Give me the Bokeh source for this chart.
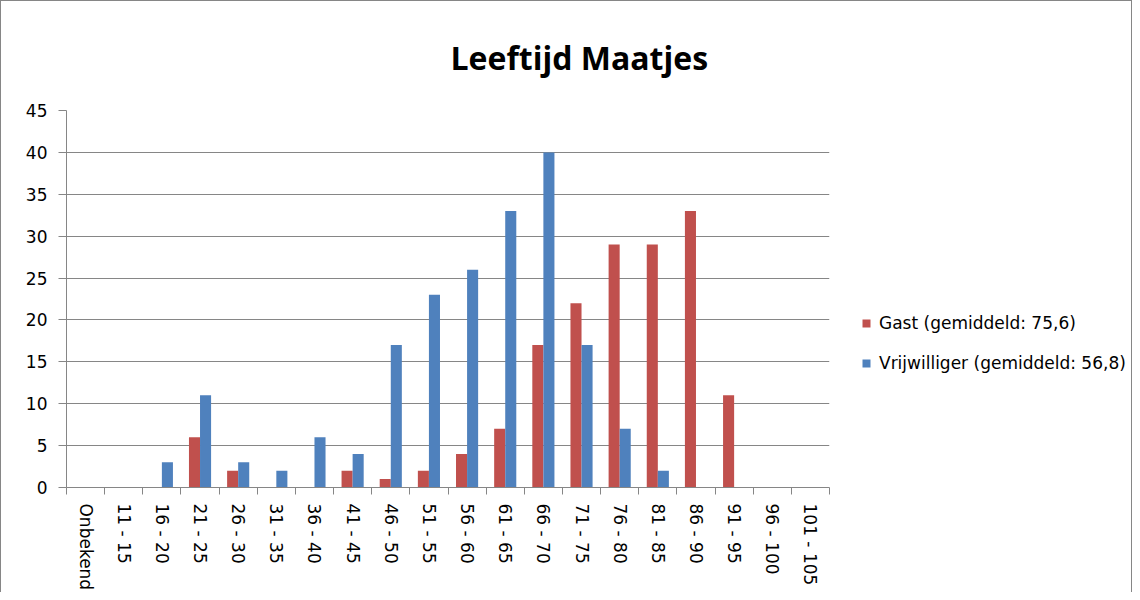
import math
from bokeh.plotting import figure
from bokeh.layouts import row
from bokeh.models import (FactorRange, Range1d, LinearAxis, FixedTicker,
                          Legend, LegendItem, ColumnDataSource)
from bokeh.transform import dodge
from bokeh.embed import file_html
from bokeh.resources import INLINE

categories = ["Onbekend", "11 - 15", "16 - 20", "21 - 25", "26 - 30", "31 - 35", "36 - 40",
              "41 - 45", "46 - 50", "51 - 55", "56 - 60", "61 - 65", "66 - 70", "71 - 75",
              "76 - 80", "81 - 85", "86 - 90", "91 - 95", "96 - 100", "101 - 105"]
gast = [0, 0, 0, 6, 2, 0, 0, 2, 1, 2, 4, 7, 17, 22, 29, 29, 33, 11, 0, 0]
vrijwilliger = [0, 0, 3, 11, 3, 2, 6, 4, 17, 23, 26, 33, 40, 17, 7, 2, 0, 0, 0, 0]
y_ticks = [0, 5, 10, 15, 20, 25, 30, 35, 40, 45]
series_labels = ["Gast (gemiddeld: 75,6)", "Vrijwilliger (gemiddeld: 56,8)"]

RED = "#C0504D"
BLUE = "#4F81BD"
GRID = "#868686"
FONT = "DejaVu Sans"
FS = "17px"

src = ColumnDataSource(dict(cat=categories, gast=gast, vrij=vrijwilliger))

p = figure(x_range=FactorRange(*categories, range_padding=0), y_range=Range1d(0, 45),
           width=830, height=592, output_backend="svg", toolbar_location=None,
           x_axis_location=None, min_border_left=65, min_border_top=103,
           min_border_right=2, min_border_bottom=104)
p.outline_line_color = None
p.styles = {"border-left": "1px solid #868686", "border-top": "1px solid #868686"}

p.title.text = "Leeftijd Maatjes"
p.title.text_font = "Open Sans"
p.title.text_font_style = "bold"
p.title.text_font_size = "32px"
p.title.text_color = "#000000"
p.title.align = "left"
p.title.offset = 384
p.title.standoff = 64

r1 = p.vbar(x=dodge("cat", -0.145, range=p.x_range), top="gast", width=0.29,
            source=src, fill_color=RED, line_color=None)
r2 = p.vbar(x=dodge("cat", 0.145, range=p.x_range), top="vrij", width=0.29,
            source=src, fill_color=BLUE, line_color=None)

# y axis
p.yaxis.ticker = FixedTicker(ticks=y_ticks)
p.yaxis.axis_line_color = GRID
p.yaxis.major_tick_line_color = GRID
p.yaxis.major_tick_out = 8
p.yaxis.major_tick_in = 0
p.yaxis.minor_tick_line_color = None
p.yaxis.major_label_text_font = FONT
p.yaxis.major_label_text_font_size = FS
p.yaxis.major_label_text_color = "#000000"
p.yaxis.major_label_standoff = 11

p.xgrid.visible = False
p.ygrid.ticker = FixedTicker(ticks=y_ticks)
p.ygrid.grid_line_color = GRID

# x axis in the factor range's synthetic coordinates: labels at category
# centres, tick marks (minor ticks) at category boundaries
centres = [i + 0.5 for i in range(len(categories))]
bounds = list(range(len(categories) + 1))
x_axis = LinearAxis(ticker=FixedTicker(ticks=centres, minor_ticks=bounds),
                    major_label_overrides={c: lab for c, lab in zip(centres, categories)},
                    axis_line_color=GRID, major_tick_line_color=None,
                    minor_tick_line_color=GRID, minor_tick_out=7, minor_tick_in=0,
                    major_label_orientation=-math.pi / 2,
                    major_label_text_font=FONT, major_label_text_font_size=FS,
                    major_label_text_color="#000000", major_label_standoff=9)
p.add_layout(x_axis, "below")

# legend panel (separate figure so that the legend is not clipped by the plot frame);
# its two series use the same data but have zero width and lie outside its y range
q = figure(width=302, height=592, output_backend="svg", toolbar_location=None,
           x_axis_location=None, y_axis_location=None, title=None,
           x_range=FactorRange(*categories), y_range=Range1d(-2, -1), min_border=0)
q.grid.visible = False
q.outline_line_color = None
q.styles = {"border-top": "1px solid #868686", "border-right": "1px solid #868686"}
l1 = q.vbar(x="cat", top="gast", width=0, source=src, fill_color=RED, line_color=None)
l2 = q.vbar(x="cat", top="vrij", width=0, source=src, fill_color=BLUE, line_color=None)

legend = Legend(items=[LegendItem(label=series_labels[0], renderers=[l1]),
                       LegendItem(label=series_labels[1], renderers=[l2])],
                location=(31, 114), margin=0, padding=10, spacing=20,
                glyph_width=10, glyph_height=10, label_height=20, label_standoff=8,
                label_text_font=FONT, label_text_font_size=FS,
                label_text_color="#000000", border_line_color=None,
                background_fill_alpha=0)
q.add_layout(legend, "center")

layout = row(p, q, spacing=0)
open("out.html", "w").write(file_html(layout, INLINE))
